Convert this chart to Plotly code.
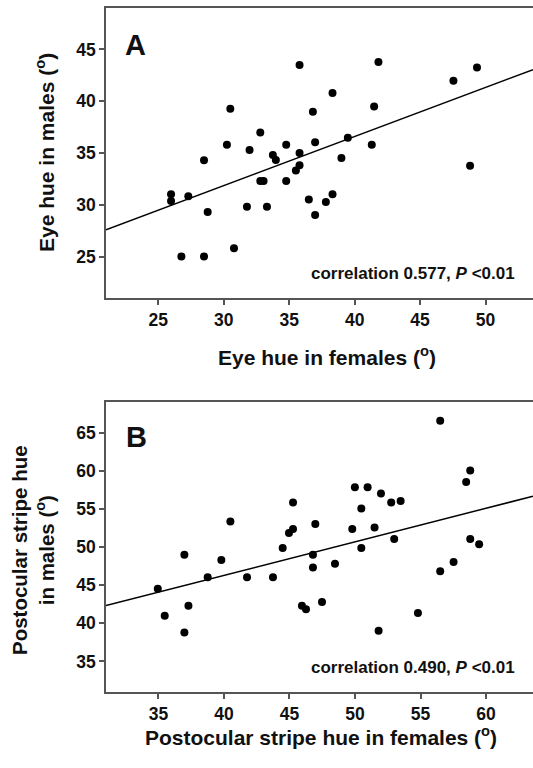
import plotly.graph_objects as go

# Panel A: eye hue
a_fem = [35.79, 41.82, 49.35, 47.55, 38.31, 30.50, 36.81, 41.49, 32.79, 30.24,
         31.97, 34.77, 36.98, 39.48, 41.31, 28.49, 33.75, 33.98, 35.79, 35.79,
         35.51, 38.99, 48.82, 32.79, 33.04, 34.77, 25.97, 25.97, 27.29, 36.50,
         37.80, 38.31, 28.77, 31.77, 33.30, 36.98, 30.78, 26.76, 28.49]
a_mal = [43.49, 43.78, 43.26, 41.98, 40.79, 39.28, 38.99, 39.50, 36.99, 35.80,
         35.29, 35.80, 36.03, 36.48, 35.80, 34.29, 34.81, 34.32, 35.00, 33.81,
         33.30, 34.52, 33.78, 32.30, 32.30, 32.30, 31.01, 30.37, 30.82, 30.50,
         30.27, 31.01, 29.31, 29.82, 29.82, 29.02, 25.80, 25.00, 25.00]
a_fit = (0.474, 17.63)  # slope, intercept

# Panel B: postocular stripe hue
b_fem = [56.50, 58.79, 58.48, 49.99, 50.96, 51.98, 52.76, 53.48, 45.27, 50.48,
         40.49, 46.97, 45.27, 44.96, 49.79, 51.49, 52.99, 58.79, 59.47, 44.48,
         50.48, 36.98, 46.79, 39.80, 46.79, 48.47, 57.52, 56.50, 38.76, 41.76,
         43.74, 34.95, 37.29, 45.95, 46.26, 47.48, 35.48, 54.80, 36.98, 51.80]
b_mal = [66.53, 60.02, 58.53, 57.83, 57.83, 57.00, 55.82, 56.04, 55.82, 55.03,
         53.33, 53.02, 52.36, 51.84, 52.36, 52.54, 51.05, 51.05, 50.35, 49.87,
         49.87, 49.00, 49.00, 48.30, 47.33, 47.82, 48.03, 46.81, 46.02, 46.02,
         46.02, 44.54, 42.31, 42.31, 41.83, 42.79, 41.00, 41.34, 38.81, 39.03]
b_fit = (0.44, 28.68)

a_xrange = [21, 53.63]
a_yrange = [21, 49]
b_xrange = [31, 63.58]
b_yrange = [31, 69]
a_xticks = [25, 30, 35, 40, 45, 50]
a_yticks = [25, 30, 35, 40, 45]
b_xticks = [35, 40, 45, 50, 55, 60]
b_yticks = [35, 40, 45, 50, 55, 60, 65]

FONT = "Liberation Sans, Arial, sans-serif"
TXT = "#111111"
AX = "#555555"

fig = go.Figure()
fig.add_trace(go.Scatter(x=a_fem, y=a_mal, mode="markers",
                         marker=dict(size=8, color="black"), xaxis="x", yaxis="y"))
fig.add_trace(go.Scatter(x=a_xrange, y=[a_fit[0] * v + a_fit[1] for v in a_xrange],
                         mode="lines", line=dict(color="black", width=1.5), xaxis="x", yaxis="y"))
fig.add_trace(go.Scatter(x=b_fem, y=b_mal, mode="markers",
                         marker=dict(size=8, color="black"), xaxis="x2", yaxis="y2"))
fig.add_trace(go.Scatter(x=b_xrange, y=[b_fit[0] * v + b_fit[1] for v in b_xrange],
                         mode="lines", line=dict(color="black", width=1.5), xaxis="x2", yaxis="y2"))

W, H = 533, 768
L, R, T, B = 106, 0, 8, 76
PW, PH = W - L - R, H - T - B

def px(x):
    return (x - L) / PW

def py(y):
    return (H - B - y) / PH

tickfont = dict(family=FONT, size=17.5, color=TXT, weight="bold")
axcommon = dict(showline=True, linecolor=AX, linewidth=1.5, ticks="outside",
                ticklen=5, tickcolor=AX, tickwidth=1.5, showgrid=False,
                zeroline=False, tickfont=tickfont, fixedrange=True)

fig.update_layout(
    width=W, height=H, margin=dict(l=L, r=R, t=T, b=B),
    paper_bgcolor="white", plot_bgcolor="white", showlegend=False,
    xaxis=dict(domain=[0, 1], range=a_xrange, tickvals=a_xticks, anchor="y",
               mirror=True, **axcommon),
    yaxis=dict(domain=[py(298), 1], range=a_yrange, tickvals=a_yticks, anchor="x",
               mirror=False, **axcommon),
    xaxis2=dict(domain=[0, 1], range=b_xrange, tickvals=b_xticks, anchor="y2",
                mirror=True, **axcommon),
    yaxis2=dict(domain=[0, py(402)], range=b_yrange, tickvals=b_yticks, anchor="x2",
                mirror=False, **axcommon),
)

titlefont = dict(family=FONT, size=21, color=TXT, weight="bold")
annots = [
    dict(text="Eye hue in females (<sup>o</sup>)", x=px(327), y=py(356),
         font=titlefont),
    dict(text="Postocular stripe hue in females (<sup>o</sup>)", x=px(321), y=py(736),
         font=titlefont),
    dict(text="Eye hue in males (<sup>o</sup>)", x=px(45), y=py(153),
         font=titlefont, textangle=-90),
    dict(text="Postocular stripe hue<br>in males (<sup>o</sup>)", x=px(33), y=py(550),
         font=dict(family=FONT, size=20.5, color=TXT, weight="bold"), textangle=-90),
    dict(text="A", x=px(135), y=py(45), font=dict(family=FONT, size=29, color=TXT, weight="bold")),
    dict(text="B", x=px(136), y=py(437), font=dict(family=FONT, size=29, color=TXT, weight="bold")),
    dict(text="correlation 0.577, <i>P</i> &lt;0.01", x=px(517), y=py(273), xanchor="right",
         font=dict(family=FONT, size=17, color=TXT, weight="bold")),
    dict(text="correlation 0.490, <i>P</i> &lt;0.01", x=px(517), y=py(667), xanchor="right",
         font=dict(family=FONT, size=17, color=TXT, weight="bold")),
]
for a in annots:
    a.setdefault("xanchor", "center")
    a.update(xref="paper", yref="paper", yanchor="middle", showarrow=False)
fig.update_layout(annotations=annots)

fig.write_html("out.html")
